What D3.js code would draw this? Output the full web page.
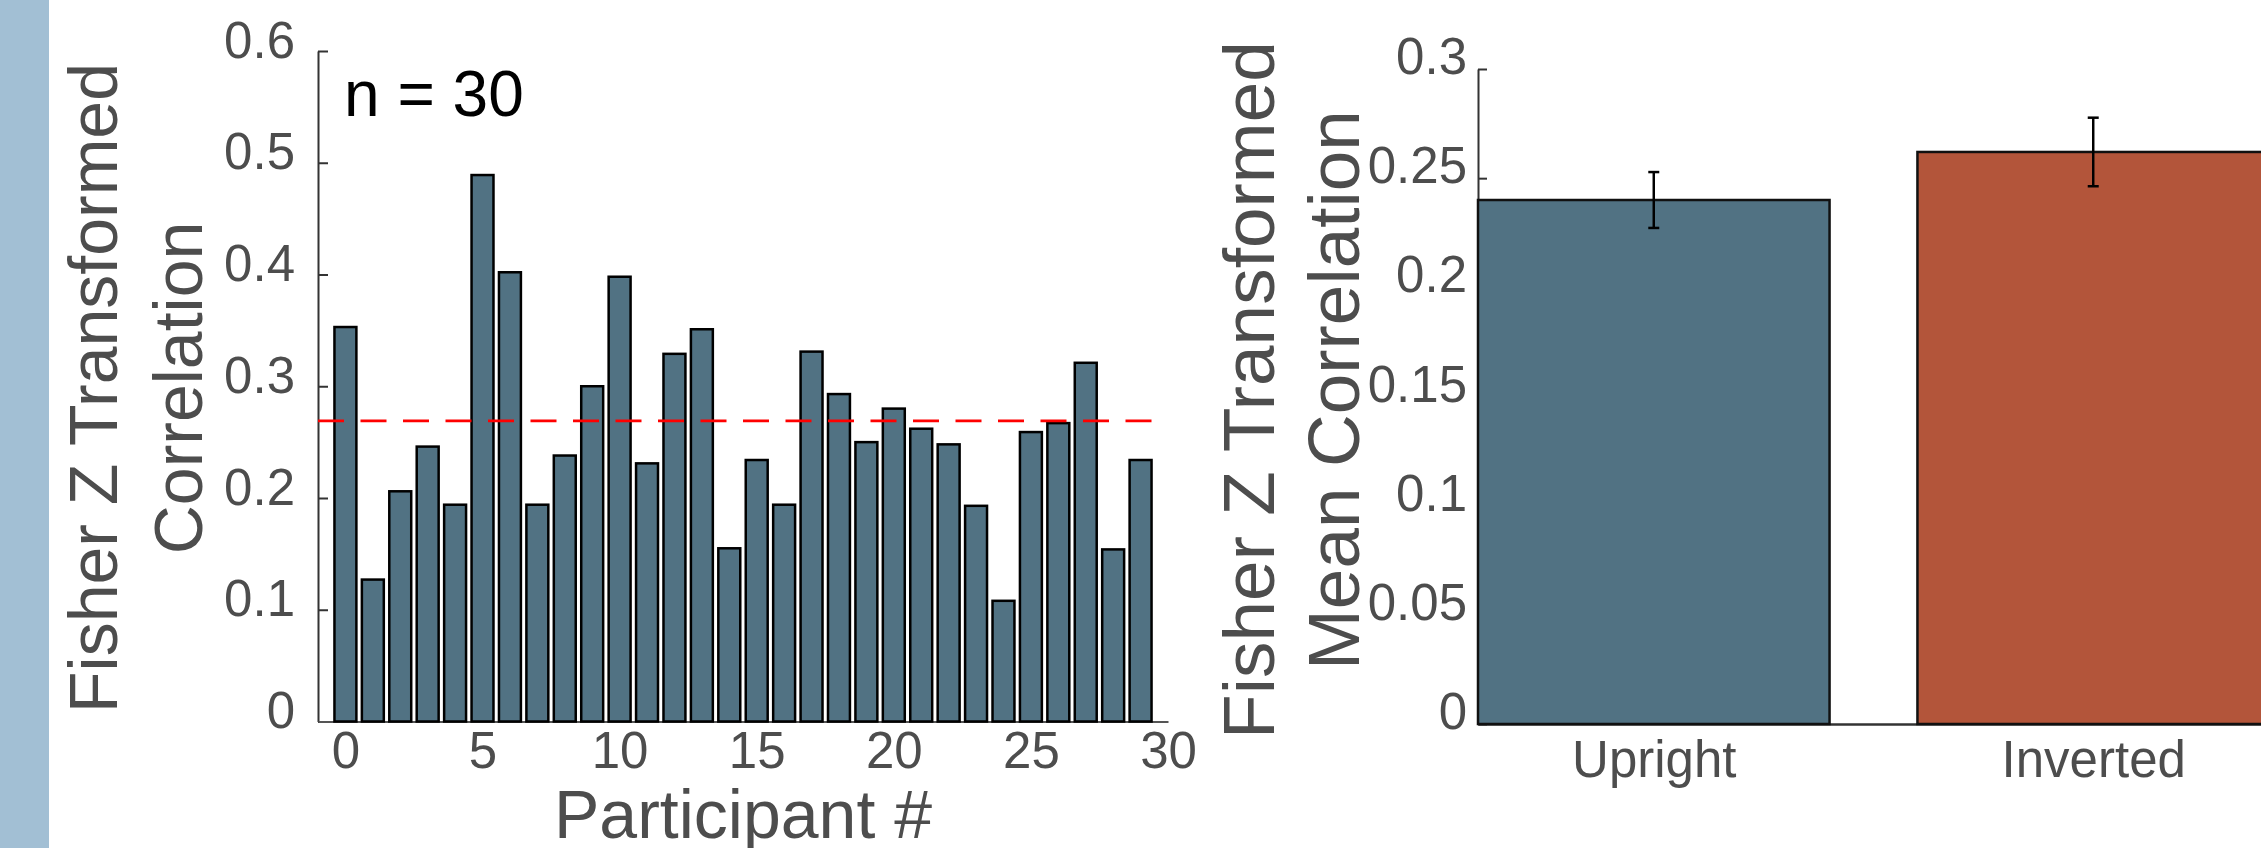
<!DOCTYPE html>
<html>
<head>
<meta charset="utf-8">
<script src="https://d3js.org/d3.v7.min.js"></script>
<style>
  body { margin: 0; background: #fff; }
  svg { display: block; font-family: "Liberation Sans", Arial, Helvetica, sans-serif; }
</style>
</head>
<body>
<div id="chart"></div>
<script>
// per-participant Fisher z correlations (participant 0..29)
var correlations = [0.353, 0.127, 0.206, 0.246, 0.194, 0.489, 0.402, 0.194, 0.238, 0.300,
                    0.398, 0.231, 0.329, 0.351, 0.155, 0.234, 0.194, 0.331, 0.293, 0.250,
                    0.280, 0.262, 0.248, 0.193, 0.108, 0.259, 0.267, 0.321, 0.154, 0.234];
var refLine = 0.269;
var xTicks = [0, 5, 10, 15, 20, 25, 30];
var yTicksLeft = [0, 0.1, 0.2, 0.3, 0.4, 0.5, 0.6];

var conditions = ["Upright", "Inverted"];
var meanCorr = [0.240, 0.262];
var semCorr = [0.0128, 0.0157];
var yTicksRight = [0, 0.05, 0.1, 0.15, 0.2, 0.25, 0.3];

var W = 2261, H = 848;
var textGray = "#4d4d4d", axisColor = "#333";
var barBlue = "#517283", barRed = "#b3553a";

var svg = d3.select("#chart").append("svg")
    .attr("width", W)
    .attr("height", H);

// side strip
svg.append("rect")
    .attr("x", 0).attr("y", 0)
    .attr("width", 49).attr("height", H)
    .style("fill", "#a2bfd4");

function fmt(d) { return d === 0 ? "0" : String(+d.toFixed(2)); }

//<------ left panel ------>
var x1 = d3.scaleLinear().domain([-1, 30]).range([318, 1168]);
var y1 = d3.scaleLinear().domain([0, 0.6]).range([721.5, 51]);

var gy1 = svg.append("g")
    .attr("transform", "translate(" + x1(-1) + ",0)")
    .call(d3.axisLeft(y1).tickValues(yTicksLeft).tickFormat(fmt)
        .tickSize(-10).tickSizeOuter(0).tickPadding(23));
gy1.select(".domain").style("stroke", axisColor).style("stroke-width", 2);
gy1.selectAll(".tick line").style("stroke", axisColor).style("stroke-width", 2);
gy1.selectAll(".tick text")
    .attr("dy", null).attr("y", 6)
    .style("font-size", "51px").style("fill", textGray);

var gx1 = svg.append("g")
    .attr("transform", "translate(0," + y1(0) + ")")
    .call(d3.axisBottom(x1).tickValues(xTicks).tickSize(0).tickSizeOuter(0));
gx1.select(".domain").style("stroke", "#555").style("stroke-width", 2);
gx1.selectAll(".tick text")
    .attr("dy", null).attr("y", 46)
    .style("font-size", "51px").style("fill", textGray);

var bw1 = x1(0.8) - x1(0);
svg.append("g")
    .selectAll("rect")
    .data(correlations)
    .enter().append("rect")
    .attr("x", function(d, i) { return x1(i) - bw1 / 2; })
    .attr("y", function(d) { return y1(d); })
    .attr("width", bw1)
    .attr("height", function(d) { return y1(0) - y1(d); })
    .style("fill", barBlue)
    .style("stroke", "#000")
    .style("stroke-width", 2.5);

svg.append("line")
    .attr("x1", x1(-1)).attr("x2", x1(30))
    .attr("y1", y1(refLine)).attr("y2", y1(refLine))
    .style("stroke", "#ff0000")
    .style("stroke-width", 2.7)
    .style("stroke-dasharray", "26,16.5");

svg.append("text")
    .attr("x", 344).attr("y", 116)
    .style("font-size", "64px").style("fill", "#000")
    .text("n = 30");

svg.append("text")
    .attr("x", (x1(-1) + x1(30)) / 2).attr("y", 838)
    .style("text-anchor", "middle")
    .style("font-size", "68px").style("fill", textGray)
    .text("Participant #");

var lab1 = svg.append("text")
    .attr("transform", "translate(0,388) rotate(-90)")
    .style("text-anchor", "middle")
    .style("font-size", "68px").style("fill", textGray);
lab1.append("tspan").attr("x", 0).attr("y", 117).text("Fisher Z Transformed");
lab1.append("tspan").attr("x", 0).attr("y", 201.5).text("Correlation");

//<------ right panel ------>
var x2 = d3.scaleLinear().domain([0.6, 2.4]).range([1478, 2269]);
var y2 = d3.scaleLinear().domain([0, 0.3]).range([724, 69]);

var gy2 = svg.append("g")
    .attr("transform", "translate(" + x2(0.6) + ",0)")
    .call(d3.axisLeft(y2).tickValues(yTicksRight).tickFormat(fmt)
        .tickSize(-9).tickSizeOuter(0).tickPadding(11));
gy2.select(".domain").style("stroke", axisColor).style("stroke-width", 2);
gy2.selectAll(".tick line").style("stroke", axisColor).style("stroke-width", 2);
gy2.selectAll(".tick text")
    .attr("dy", null).attr("y", 4.5)
    .style("font-size", "51px").style("fill", textGray);

var gx2 = svg.append("g")
    .attr("transform", "translate(0," + y2(0) + ")")
    .call(d3.axisBottom(x2).tickValues([1, 2])
        .tickFormat(function(d) { return conditions[d - 1]; })
        .tickSize(0).tickSizeOuter(0));
gx2.select(".domain").style("stroke", axisColor).style("stroke-width", 2.5);
gx2.selectAll(".tick text")
    .attr("dy", null).attr("y", 53)
    .style("font-size", "51px").style("fill", textGray);

var bw2 = x2(0.8) - x2(0);
svg.append("g")
    .selectAll("rect")
    .data(meanCorr)
    .enter().append("rect")
    .attr("x", function(d, i) { return x2(i + 1) - bw2 / 2; })
    .attr("y", function(d) { return y2(d); })
    .attr("width", bw2)
    .attr("height", function(d) { return y2(0) - y2(d); })
    .style("fill", function(d, i) { return i === 0 ? barBlue : barRed; })
    .style("stroke", "#111")
    .style("stroke-width", 2.5);

var err = svg.append("g")
    .selectAll("g")
    .data(meanCorr)
    .enter().append("g")
    .style("stroke", "#000")
    .style("stroke-width", 2.5);
err.append("line")
    .attr("x1", function(d, i) { return x2(i + 1); })
    .attr("x2", function(d, i) { return x2(i + 1); })
    .attr("y1", function(d, i) { return y2(d - semCorr[i]); })
    .attr("y2", function(d, i) { return y2(d + semCorr[i]); });
[-1, 1].forEach(function(s) {
    err.append("line")
        .attr("x1", function(d, i) { return x2(i + 1) - 5.5; })
        .attr("x2", function(d, i) { return x2(i + 1) + 5.5; })
        .attr("y1", function(d, i) { return y2(d + s * semCorr[i]); })
        .attr("y2", function(d, i) { return y2(d + s * semCorr[i]); });
});

var lab2 = svg.append("text")
    .attr("transform", "translate(0,390) rotate(-90)")
    .style("text-anchor", "middle")
    .style("font-size", "73px").style("fill", textGray);
lab2.append("tspan").attr("x", 0).attr("y", 1274).text("Fisher Z Transformed");
lab2.append("tspan").attr("x", 0).attr("y", 1359).text("Mean Correlation");
</script>
</body>
</html>
